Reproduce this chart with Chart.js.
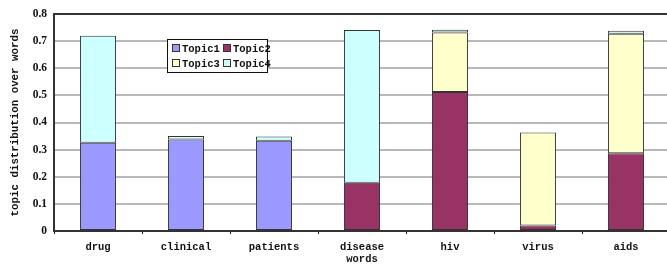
<!DOCTYPE html>
<html>
<head>
<meta charset="utf-8">
<script src="https://cdn.jsdelivr.net/npm/chart.js@4"></script>
<style>
    html, body { margin: 0; padding: 0; background: #fff; overflow: hidden; }
    #wrap { position: relative; width: 670px; height: 266px; }
    #legend {
        position: absolute; left: 167px; top: 39px; width: 99px; height: 32px;
        border: 1.5px solid #111; background: #fff;
        font: bold 10.5px "Liberation Mono", monospace; color: #111;
    }
    #legend .item { position: absolute; line-height: 12px; white-space: nowrap; }
    #legend .sw {
        display: inline-block; width: 6px; height: 6px; border: 1px solid #333;
        margin-right: 2px; vertical-align: 0px;
    }
</style>
</head>
<body>
<div id="wrap">
    <canvas id="chart" width="670" height="266"></canvas>
    <div id="legend"></div>
</div>
<script>
// Daten
const categories = ['drug', 'clinical', 'patients', 'disease', 'hiv', 'virus', 'aids'];
const topic1 = [0.325, 0.337, 0.333, 0, 0, 0, 0];
const topic2 = [0, 0, 0, 0.178, 0.512, 0.02, 0.287];
const topic3 = [0, 0, 0, 0, 0.22, 0.343, 0.44];
const topic4 = [0.395, 0.013, 0.015, 0.563, 0.01, 0, 0.011];
const yTicks = [0, 0.1, 0.2, 0.3, 0.4, 0.5, 0.6, 0.7, 0.8];

const seriesNames = ['Topic1', 'Topic2', 'Topic3', 'Topic4'];
const seriesColors = ['#9999ff', '#993366', '#ffffcc', '#ccffff'];
const seriesData = [topic1, topic2, topic3, topic4];

const monoFont = { family: '"Liberation Mono", monospace', size: 10.5, weight: 'bold' };

new Chart(document.getElementById('chart'), {
    type: 'bar',
    data: {
        labels: categories,
        datasets: seriesNames.map((name, i) => ({
            label: name,
            data: seriesData[i],
            backgroundColor: seriesColors[i],
            borderColor: '#333',
            borderWidth: 1,
            borderSkipped: false,
            barPercentage: 0.41,
            categoryPercentage: 1
        }))
    },
    options: {
        responsive: false,
        animation: false,
        layout: { padding: { top: 14, left: 0, right: 0, bottom: 0 } },
        plugins: {
            legend: { display: false },
            tooltip: { enabled: false }
        },
        scales: {
            x: {
                stacked: true,
                afterFit: s => { s.height = 35; },
                grid: {
                    drawOnChartArea: false,
                    drawTicks: true,
                    tickLength: 3,
                    color: '#222',
                    lineWidth: 1
                },
                border: { color: '#333', width: 2 },
                ticks: { color: '#111', font: monoFont, padding: 7, maxRotation: 0 },
                title: {
                    display: true, text: 'words', color: '#111', font: monoFont,
                    padding: { top: 0, bottom: 0 }
                }
            },
            y: {
                stacked: true,
                min: 0,
                max: 0.8,
                afterFit: s => { s.width = 54; },
                afterBuildTicks: s => { s.ticks = yTicks.map(v => ({ value: v })); },
                grid: {
                    drawTicks: false,
                    lineWidth: 2,
                    color: ctx => ctx.tick && ctx.tick.value === 0.8 ? '#333' : '#b8b8b8'
                },
                border: { color: '#333', width: 2 },
                ticks: {
                    color: '#111',
                    padding: 7,
                    font: { family: '"Liberation Serif", serif', size: 11.5, weight: 'bold' },
                    callback: v => String(v)
                },
                title: {
                    display: true, text: 'topic distribution over words', color: '#111',
                    font: { family: '"Liberation Mono", monospace', size: 10.8, weight: 'bold' },
                    padding: { top: 9, bottom: 0 }
                }
            }
        }
    }
});

// Legende als HTML, 2x2 wie im Original
const legend = document.getElementById('legend');
const pos = [[4, 3], [55, 3], [4, 18], [55, 18]];
seriesNames.forEach((name, i) => {
    const el = document.createElement('div');
    el.className = 'item';
    el.style.left = pos[i][0] + 'px';
    el.style.top = pos[i][1] + 'px';
    el.innerHTML = '<span class="sw" style="background:' + seriesColors[i] + '"></span>' + name;
    legend.appendChild(el);
});
</script>
</body>
</html>
